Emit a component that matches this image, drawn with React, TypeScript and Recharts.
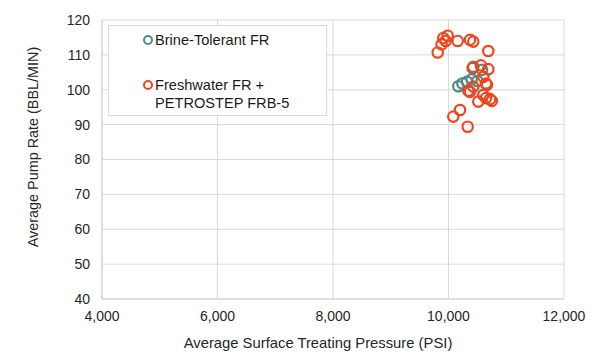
import { CartesianGrid, Label, Scatter, ScatterChart, XAxis, YAxis } from 'recharts';

const brineX = [10170, 10240, 10320, 10400, 10430, 10580, 10500];
const brineY = [101.0, 101.8, 102.3, 103.0, 106.6, 105.7, 102.5];

const freshX = [
  9813, 9910, 9986, 9951, 9880, 10159, 10372, 10429, 10689, 10419, 10560, 10689, 10603,
  10649, 10343, 10429, 10372, 10603, 10719, 10516, 10649, 10199, 10083, 10332, 10666, 10750,
];
const freshY = [
  110.7, 114.8, 115.5, 114.0, 113.0, 114.0, 114.3, 113.8, 111.1, 106.2, 107.0, 105.9, 103.7,
  101.8, 99.7, 100.9, 99.4, 98.5, 97.3, 96.6, 97.6, 94.2, 92.3, 89.4, 101.4, 96.8,
];

const xTicks = [4000, 6000, 8000, 10000, 12000];
const yTicks = [40, 50, 60, 70, 80, 90, 100, 110, 120];

const TEAL = '#4e8c8a';
const RED = '#f0441f';
const FONT = '"Liberation Sans", Arial, sans-serif';

const brine = brineX.map((x, i) => ({ x, y: brineY[i] }));
const fresh = freshX.map((x, i) => ({ x, y: freshY[i] }));

function ring(color: string) {
  return (p: any) => (
    <circle cx={p.cx} cy={p.cy} r={5.2} fill="none" stroke={color} strokeWidth={2.2} />
  );
}

// legend drawn as an overlay box, like the Excel one sitting inside the plot
function LegendBox() {
  const item = (color: string, lines: string[]) => (
    <div style={{ display: 'flex', alignItems: 'flex-start' }}>
      <svg width={14} height={18} style={{ marginRight: 1, flexShrink: 0 }}>
        <circle cx={8} cy={9} r={4} fill="none" stroke={color} strokeWidth={2} />
      </svg>
      <div style={{ lineHeight: '18px' }}>
        {lines.map((l) => (
          <div key={l}>{l}</div>
        ))}
      </div>
    </div>
  );
  return (
    <div
      style={{
        position: 'absolute',
        left: 108,
        top: 25,
        boxSizing: 'border-box',
        width: 219,
        height: 91,
        border: '1px solid #d9d9d9',
        background: '#fff',
        fontFamily: FONT,
        fontSize: 14.6,
        color: '#1a1a1a',
        paddingLeft: 31,
        paddingTop: 5,
      }}
    >
      {item(TEAL, ['Brine-Tolerant FR'])}
      <div style={{ height: 27 }} />
      {item(RED, ['Freshwater FR +', 'PETROSTEP FRB-5'])}
    </div>
  );
}

export default function App() {
  return (
    <div style={{ position: 'absolute', left: 0, top: 0, width: 600, height: 363, background: '#fff' }}>
      <ScatterChart width={600} height={363} margin={{ top: 20, right: 36, bottom: 34, left: 42 }}>
        <CartesianGrid stroke="#d9d9d9" />
        <XAxis
          type="number"
          dataKey="x"
          domain={[4000, 12000]}
          ticks={xTicks}
          tickFormatter={(v: number) => v.toLocaleString('en-US')}
          tick={{ fill: '#262626', fontSize: 14, fontFamily: FONT }}
          tickLine={false}
          tickSize={0}
          tickMargin={12}
          axisLine={{ stroke: '#cfcfcf' }}
          height={30}
          interval={0}
        >
          <Label
            content={() => (
              <text x={318} y={348} textAnchor="middle" fontSize={14.8} fontFamily={FONT} fill="#262626">
                Average Surface Treating Pressure (PSI)
              </text>
            )}
          />
        </XAxis>
        <YAxis
          type="number"
          dataKey="y"
          domain={[40, 120]}
          ticks={yTicks}
          tick={{ fill: '#262626', fontSize: 14, fontFamily: FONT }}
          tickLine={false}
          tickSize={0}
          tickMargin={12}
          axisLine={{ stroke: '#cfcfcf' }}
          width={60}
          interval={0}
        >
          <Label
            content={() => (
              <text
                transform="translate(38,147) rotate(-90)"
                textAnchor="middle"
                fontSize={14.4}
                fontFamily={FONT}
                fill="#262626"
              >
                Average Pump Rate (BBL/MIN)
              </text>
            )}
          />
        </YAxis>
        <Scatter name="Brine-Tolerant FR" data={brine} shape={ring(TEAL)} isAnimationActive={false} />
        <Scatter
          name="Freshwater FR + PETROSTEP FRB-5"
          data={fresh}
          shape={ring(RED)}
          isAnimationActive={false}
        />
      </ScatterChart>
      <LegendBox />
    </div>
  );
}
